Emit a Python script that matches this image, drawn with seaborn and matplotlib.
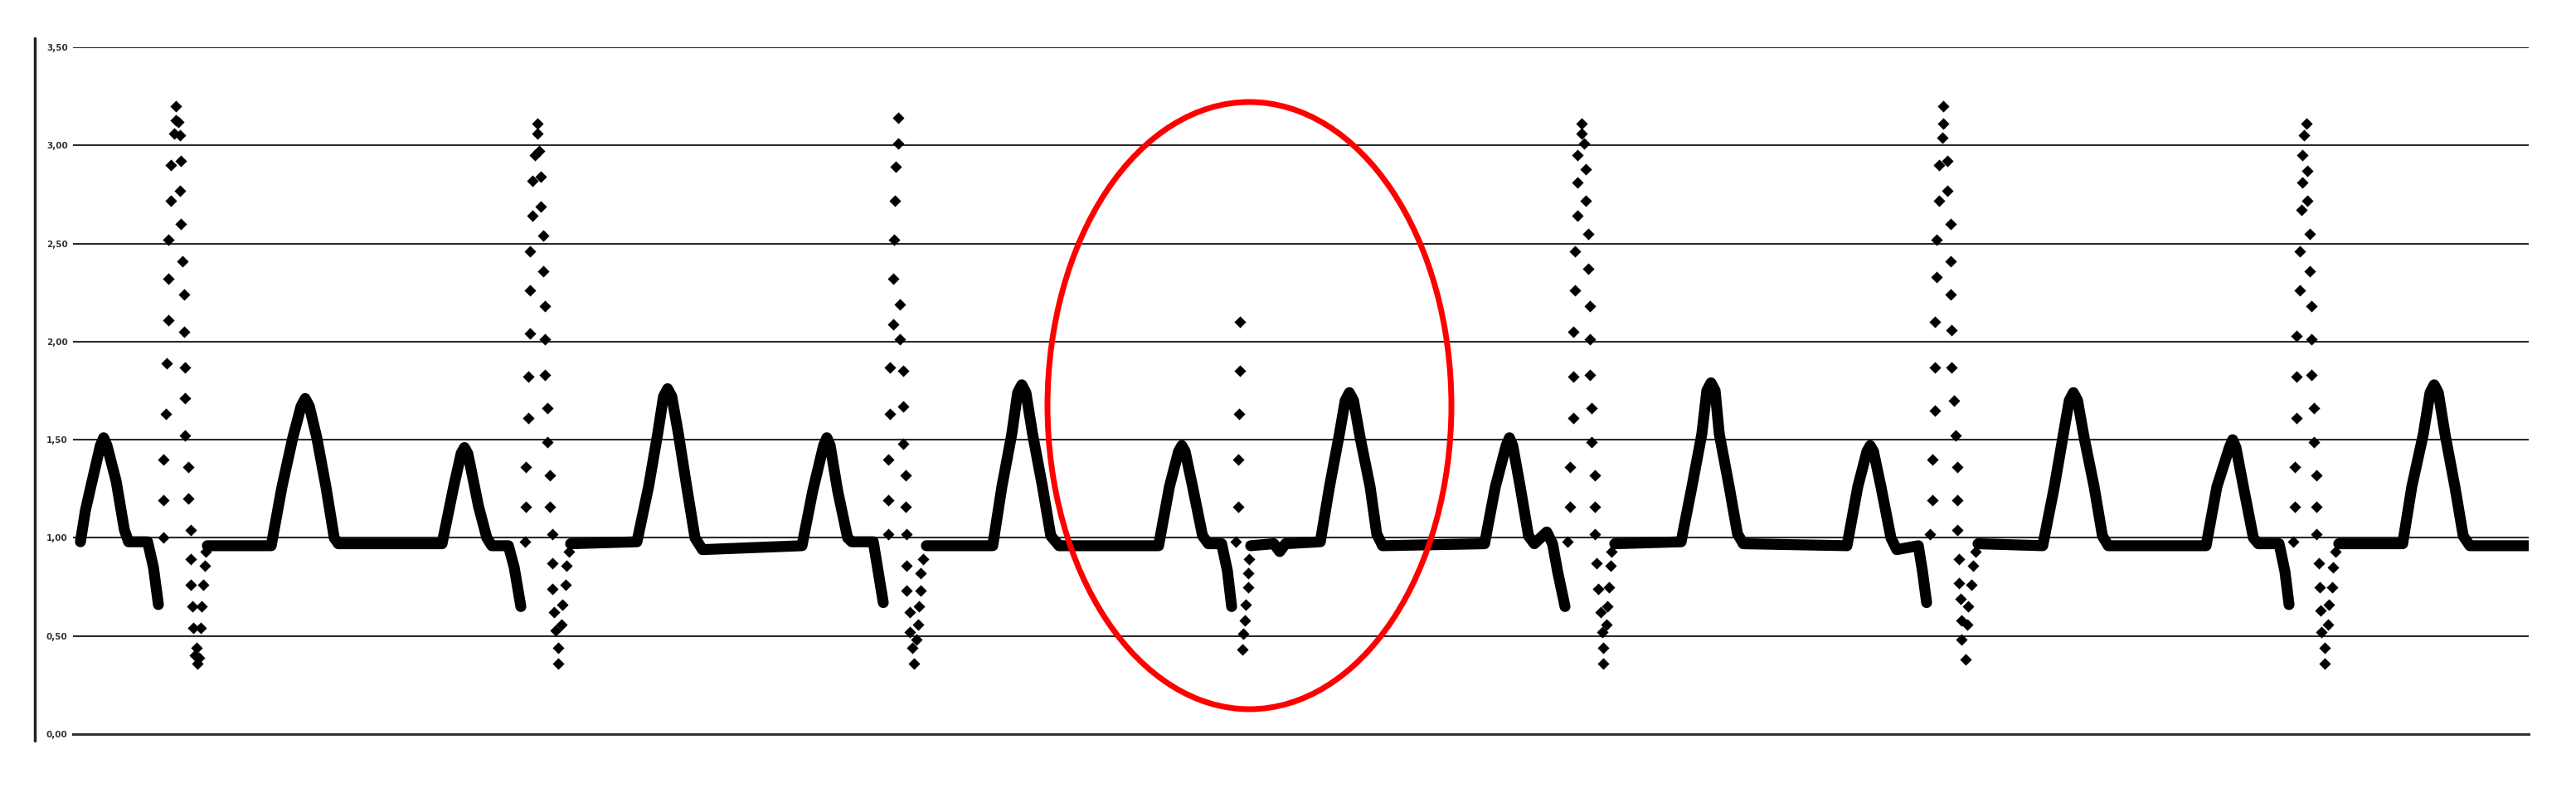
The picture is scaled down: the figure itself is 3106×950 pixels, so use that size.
import numpy as np
import pandas as pd
import matplotlib
matplotlib.use("Agg")
import matplotlib.pyplot as plt
import seaborn as sns
from matplotlib.patches import Ellipse
from matplotlib.lines import Line2D

# ---------------- data (sample index, amplitude) ----------------
# dense part of the trace (baseline, P waves, T waves, Q dips), one list per stretch
seg_1 = [(4, 0.98), (10, 1.14), (17, 1.27), (28, 1.47), (32, 1.51), (36, 1.47), (47, 1.29),
         (57, 1.04), (62, 0.98), (85, 0.98), (92, 0.85), (98, 0.66)]
seg_2 = [(157, 0.96), (234, 0.96), (247, 1.26), (260, 1.51), (270, 1.67), (275, 1.71), (280, 1.67),
         (289, 1.51), (300, 1.26), (310, 1.00), (315, 0.97), (440, 0.97), (454, 1.26), (463, 1.43),
         (467, 1.46), (471, 1.43), (474, 1.37), (484, 1.16), (494, 1.00), (500, 0.96), (520, 0.96),
         (527, 0.85), (535, 0.65)]
seg_3 = [(595, 0.97), (675, 0.98), (689, 1.26), (700, 1.53), (707, 1.72), (712, 1.76), (717, 1.72),
         (725, 1.53), (735, 1.26), (745, 1.00), (754, 0.94), (874, 0.96), (887, 1.24), (900, 1.47),
         (904, 1.51), (908, 1.47), (917, 1.24), (929, 1.00), (934, 0.98), (960, 0.98), (965, 0.85),
         (972, 0.67)]
seg_4 = [(1024, 0.96), (1104, 0.96), (1115, 1.26), (1127, 1.53), (1134, 1.74), (1139, 1.78),
         (1144, 1.74), (1152, 1.53), (1164, 1.26), (1174, 1.01), (1184, 0.96), (1304, 0.96),
         (1317, 1.26), (1328, 1.44), (1332, 1.47), (1336, 1.44), (1345, 1.26), (1357, 1.01),
         (1364, 0.97), (1380, 0.97), (1387, 0.83), (1392, 0.65)]
seg_5 = [(1415, 0.96), (1443, 0.97), (1450, 0.93), (1457, 0.97), (1499, 0.98), (1510, 1.26),
         (1522, 1.53), (1529, 1.70), (1534, 1.74), (1539, 1.70), (1547, 1.51), (1559, 1.26),
         (1567, 1.02), (1574, 0.96), (1697, 0.97), (1710, 1.26), (1723, 1.47), (1727, 1.51),
         (1731, 1.47), (1740, 1.26), (1750, 1.01), (1757, 0.97), (1772, 1.03), (1779, 0.97),
         (1785, 0.83), (1794, 0.65)]
seg_6 = [(1854, 0.97), (1934, 0.98), (1947, 1.26), (1959, 1.53), (1965, 1.75), (1970, 1.79),
         (1975, 1.75), (1980, 1.53), (1992, 1.26), (2002, 1.02), (2009, 0.97), (2134, 0.96),
         (2147, 1.26), (2158, 1.44), (2162, 1.47), (2166, 1.44), (2175, 1.26), (2187, 1.00),
         (2194, 0.94), (2220, 0.96), (2225, 0.83), (2230, 0.67)]
seg_7 = [(2292, 0.97), (2370, 0.96), (2384, 1.26), (2395, 1.53), (2402, 1.70), (2407, 1.74),
         (2412, 1.70), (2420, 1.51), (2432, 1.26), (2442, 1.01), (2449, 0.96), (2567, 0.96),
         (2580, 1.26), (2595, 1.46), (2599, 1.50), (2603, 1.46), (2612, 1.26), (2624, 1.00),
         (2630, 0.97), (2655, 0.97), (2662, 0.83), (2667, 0.66)]
seg_8 = [(2727, 0.97), (2804, 0.97), (2815, 1.26), (2829, 1.53), (2837, 1.74), (2842, 1.78),
         (2847, 1.74), (2855, 1.53), (2867, 1.26), (2877, 1.01), (2885, 0.96), (2955, 0.96)]

# sparse samples of the QRS spikes
spike_a = [(104, 1.00), (104, 1.19), (104, 1.40), (107, 1.63), (108, 1.89), (110, 2.11), (110, 2.32),
           (110, 2.52), (113, 2.72), (113, 2.90), (117, 3.06), (119, 3.13), (119, 3.20),
           (122, 3.12), (124, 3.05), (125, 2.92), (124, 2.77), (125, 2.60), (127, 2.41), (129, 2.24),
           (129, 2.05), (130, 1.87), (130, 1.71), (130, 1.52), (134, 1.36), (134, 1.20), (137, 1.04),
           (137, 0.89), (137, 0.76), (139, 0.65), (140, 0.54), (142, 0.40), (144, 0.44), (145, 0.36),
           (147, 0.39), (149, 0.54), (150, 0.65), (152, 0.76), (154, 0.86), (155, 0.93)]
spike_b = [(540, 0.98), (541, 1.16), (541, 1.36), (544, 1.61), (544, 1.82), (546, 2.04), (546, 2.26),
           (546, 2.46), (549, 2.64), (549, 2.82), (552, 2.95), (555, 3.06), (555, 3.11),
           (557, 2.97), (559, 2.84), (559, 2.69), (562, 2.54), (562, 2.36), (564, 2.18), (564, 2.01),
           (564, 1.83), (567, 1.66), (567, 1.49), (570, 1.32), (570, 1.16), (573, 1.02), (573, 0.87),
           (573, 0.74), (575, 0.62), (577, 0.53), (580, 0.44), (580, 0.36),
           (584, 0.56), (585, 0.66), (589, 0.76), (590, 0.86), (593, 0.93)]
spike_c = [(978, 1.02), (978, 1.19), (978, 1.40), (980, 1.63), (980, 1.87), (984, 2.09), (984, 2.32),
           (985, 2.52), (986, 2.72), (987, 2.89), (990, 3.01), (990, 3.14),
           (992, 2.19), (992, 2.01), (996, 1.85), (996, 1.67), (996, 1.48), (999, 1.32), (999, 1.16),
           (1000, 1.02), (1000, 0.86), (1000, 0.73), (1004, 0.62), (1004, 0.52), (1007, 0.44),
           (1009, 0.36), (1012, 0.48), (1014, 0.56), (1015, 0.65), (1017, 0.73), (1017, 0.82),
           (1020, 0.89)]
spike_d = [(1397, 0.98), (1400, 1.16), (1400, 1.40), (1401, 1.63), (1402, 1.85), (1402, 2.10),
           (1405, 0.43), (1406, 0.51), (1408, 0.58), (1409, 0.66), (1412, 0.75), (1412, 0.82),
           (1413, 0.89)]
spike_e = [(1797, 0.98), (1800, 1.16), (1800, 1.36), (1804, 1.61), (1804, 1.82), (1804, 2.05),
           (1806, 2.26), (1806, 2.46), (1809, 2.64), (1809, 2.81), (1809, 2.95), (1814, 3.06),
           (1814, 3.11), (1817, 3.01), (1819, 2.88), (1819, 2.72), (1822, 2.55), (1822, 2.37),
           (1824, 2.18), (1824, 2.01), (1824, 1.83), (1826, 1.66), (1826, 1.49), (1830, 1.32),
           (1830, 1.16), (1830, 1.02), (1832, 0.87), (1834, 0.74), (1837, 0.62), (1839, 0.52),
           (1840, 0.44), (1840, 0.36), (1844, 0.56), (1845, 0.65), (1847, 0.75), (1849, 0.86),
           (1850, 0.93)]
spike_f = [(2234, 1.02), (2237, 1.19), (2237, 1.40), (2240, 1.65), (2240, 1.87), (2240, 2.10),
           (2242, 2.33), (2242, 2.52), (2245, 2.72), (2245, 2.90), (2249, 3.04), (2250, 3.11),
           (2250, 3.20), (2255, 2.92), (2255, 2.77), (2259, 2.60), (2259, 2.41), (2259, 2.24),
           (2260, 2.06), (2260, 1.87), (2263, 1.70), (2265, 1.52), (2267, 1.36), (2267, 1.19),
           (2267, 1.04), (2269, 0.89), (2269, 0.77), (2271, 0.69), (2272, 0.58), (2272, 0.48),
           (2277, 0.38), (2279, 0.56), (2280, 0.65), (2284, 0.76), (2286, 0.86), (2289, 0.93)]
spike_g = [(2672, 0.98), (2674, 1.16), (2674, 1.36), (2676, 1.61), (2676, 1.82), (2676, 2.03),
           (2680, 2.26), (2680, 2.46), (2682, 2.67), (2683, 2.81), (2683, 2.95), (2685, 3.05),
           (2688, 3.11), (2689, 2.87), (2689, 2.72), (2692, 2.55), (2692, 2.36), (2694, 2.18),
           (2694, 2.01), (2694, 1.83), (2697, 1.66), (2697, 1.49), (2700, 1.32), (2700, 1.16),
           (2700, 1.02), (2703, 0.87), (2704, 0.75), (2705, 0.63), (2706, 0.52), (2710, 0.44),
           (2710, 0.36), (2714, 0.56), (2715, 0.66), (2719, 0.75), (2720, 0.85), (2723, 0.93)]

y_tick_values = [0.0, 0.5, 1.0, 1.5, 2.0, 2.5, 3.0, 3.5]
y_tick_labels = ["0,00", "0,50", "1,00", "1,50", "2,00", "2,50", "3,00", "3,50"]
x_tick_values = [606, 1212, 1818, 2424]

# ---------------- build tables ----------------
segments = [seg_1, seg_2, seg_3, seg_4, seg_5, seg_6, seg_7, seg_8]
trace = pd.DataFrame([(i, x, y) for i, s in enumerate(segments) for x, y in s],
                     columns=["seg", "x", "y"])
spikes = pd.DataFrame([p for s in [spike_a, spike_b, spike_c, spike_d, spike_e, spike_f, spike_g]
                       for p in s], columns=["x", "y"])

# ---------------- drawing ----------------
sns.set_style("white")
plt.rcParams["font.family"] = ["DejaVu Sans"]

W, H = 3106, 950
fig = plt.figure(figsize=(W / 100, H / 100), dpi=100)
fig.patch.set_facecolor("white")
ax = fig.add_axes([88 / W, 1 - 885 / H, (3049 - 88) / W, (885 - 57) / H])

sns.lineplot(data=trace, x="x", y="y", units="seg", estimator=None, sort=False,
             color="black", linewidth=9.5, solid_capstyle="round", solid_joinstyle="round",
             ax=ax, zorder=3, legend=False)
sns.scatterplot(data=spikes, x="x", y="y", marker="D", s=52, color="black",
                linewidth=0, ax=ax, zorder=4, legend=False)

ax.set_xlim(-5, 2956)
ax.set_ylim(0, 3.5)
ax.set_yticks(y_tick_values)
ax.set_yticklabels(y_tick_labels)
ax.set_xticks(x_tick_values)
ax.set_xticklabels([])
ax.set_xlabel("")
ax.set_ylabel("")

ax.yaxis.grid(True, color="#2a2a2a", linewidth=1.5)
ax.xaxis.grid(False)
ax.set_axisbelow(True)
for side in ["left", "top", "right"]:
    ax.spines[side].set_visible(False)
ax.spines["bottom"].set_color("#333333")
ax.spines["bottom"].set_linewidth(2.2)

ax.tick_params(axis="y", length=0, pad=4.5, labelsize=7.5, labelcolor="#333333")
for t in ax.get_yticklabels():
    t.set_fontweight("bold")
ax.tick_params(axis="x", direction="out", length=3.5, width=1.3, color="#333333")

# red ellipse highlighting the abnormal beat
ax.add_patch(Ellipse((1413.5, 1.674), 487, 3.094, fill=False, edgecolor="#ff0000",
                     linewidth=5, zorder=6, clip_on=False))

# left border line of the original picture
fig.add_artist(Line2D([42 / W, 42 / W], [1 - 46 / H, 1 - 893 / H], color="#222222",
                      linewidth=2.5, transform=fig.transFigure))

fig.savefig("out.png", dpi=100, facecolor="white")
